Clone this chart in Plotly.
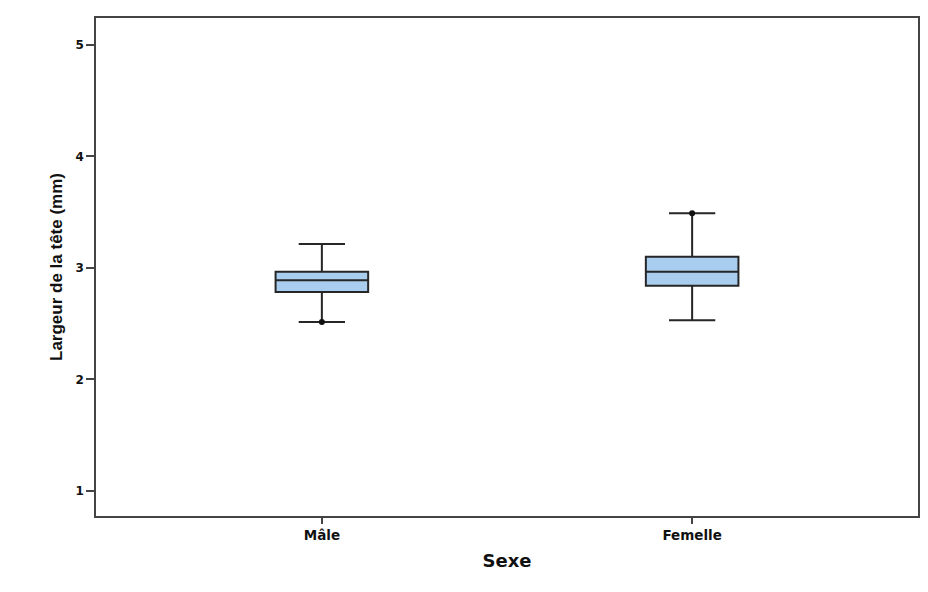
import plotly.graph_objects as go

categories = ["Mâle", "Femelle"]
q1 = [2.785, 2.84]
median = [2.89, 2.965]
q3 = [2.965, 3.10]
lower = [2.515, 2.53]
upper = [3.215, 3.49]
extreme_x = ["Mâle", "Femelle"]
extreme_y = [2.515, 3.49]
yticks = [1, 2, 3, 4, 5]

fig = go.Figure()
fig.add_trace(go.Box(
    x=categories, q1=q1, median=median, q3=q3,
    lowerfence=lower, upperfence=upper,
    fillcolor="#a8cdee", line=dict(color="#262626", width=2),
    width=0.25, whiskerwidth=0.5, boxpoints=False, showlegend=False,
    hoverinfo="y",
))
fig.add_trace(go.Scatter(
    x=extreme_x, y=extreme_y, mode="markers",
    marker=dict(color="#111111", size=6, symbol="circle"),
    showlegend=False, hoverinfo="skip",
))

# page has an 8px body margin; figure sized to fit the 928x592 window
fig.update_layout(
    width=920, height=584,
    margin=dict(l=88, r=8, t=10, b=76),
    paper_bgcolor="white", plot_bgcolor="white",
    font=dict(family="DejaVu Sans, Arial, sans-serif", color="#111111"),
    xaxis=dict(
        type="category", range=[-0.61, 1.61],
        showline=True, mirror=True, linecolor="#444444", linewidth=1.5,
        ticks="outside", ticklen=6, tickcolor="#444444", tickwidth=1.5,
        showgrid=False, zeroline=False,
        tickfont=dict(size=13.5, family="DejaVu Sans", weight="bold"),
        title=dict(text="Sexe", font=dict(size=18, family="DejaVu Sans", weight="bold"), standoff=12),
    ),
    yaxis=dict(
        range=[0.776, 5.24], tickvals=yticks,
        showline=True, mirror=True, linecolor="#444444", linewidth=1.5,
        ticks="outside", ticklen=8, tickcolor="#444444", tickwidth=1.5,
        showgrid=False, zeroline=False,
        tickfont=dict(size=12, family="DejaVu Sans", weight="bold"),
        title=dict(text="Largeur de la tête (mm)",
                   font=dict(size=17, family="Liberation Sans Narrow, Arial Narrow, Liberation Sans", weight="bold"),
                   standoff=9),
    ),
)

fig.write_html("out.html")
